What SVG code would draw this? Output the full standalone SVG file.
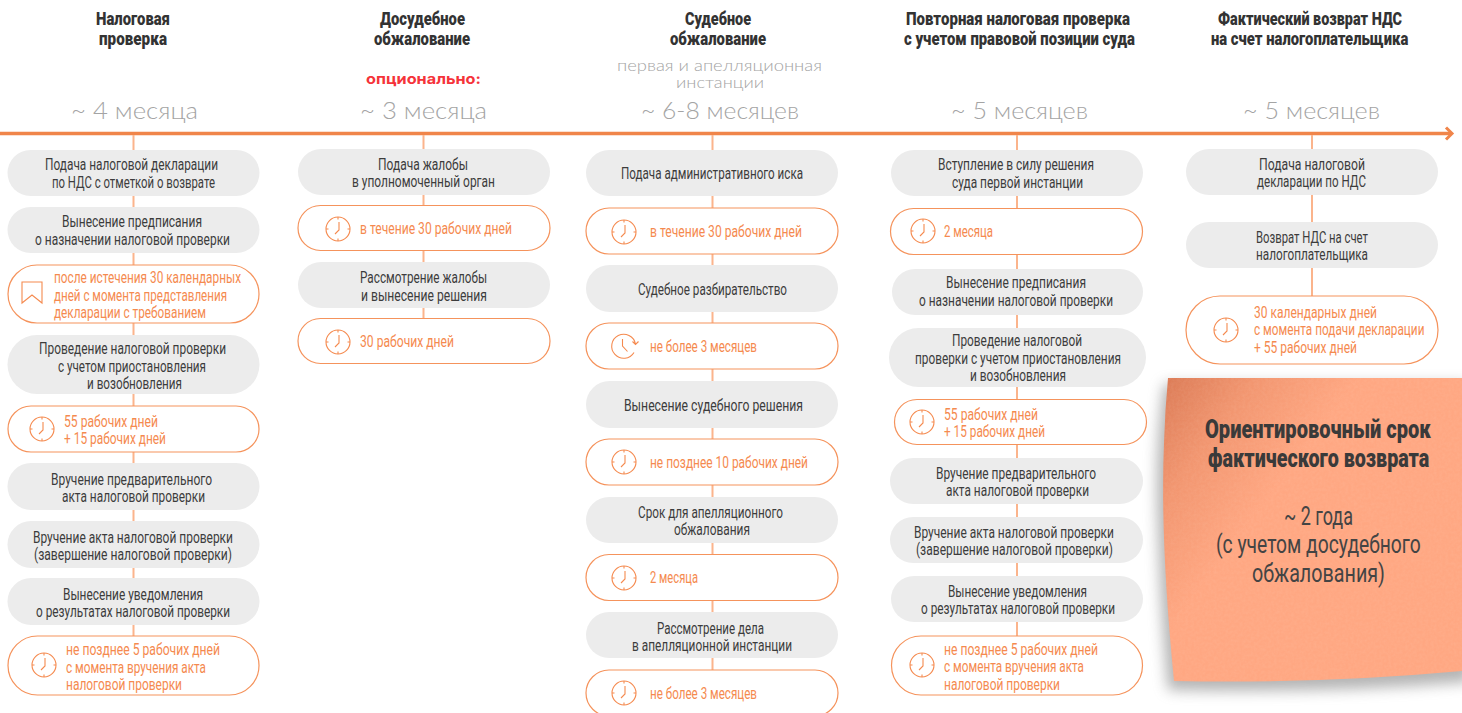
<svg xmlns="http://www.w3.org/2000/svg" width="1462" height="713" viewBox="0 0 1462 713">
<style>
text{font-family:"Roboto","Liberation Sans",sans-serif;font-size:16.5px;fill:#3c3c3c}
.g{fill:#ececec}
.o{fill:#fff;stroke:#f5935c;stroke-width:1.2}
.or text{fill:#f58a4f}
.h{font-weight:900;font-size:18.500px;fill:#333}
.m{font-family:"Lato","Open Sans",sans-serif;font-weight:300;font-size:24px;fill:#a4a4a4}
.s{font-family:"Lato","Open Sans",sans-serif;font-weight:300;font-size:15px;fill:#a4a4a4}
.r{font-family:"Inter","Open Sans",sans-serif;font-weight:700;font-size:14.5px;fill:#f5333a}
.c{stroke:#fbb48c;stroke-width:2;fill:none}
.i{fill:none;stroke:#f58a4f;stroke-width:1.1}
.n1{font-weight:900;font-size:25px;fill:#3a3a3a}
.n2{font-size:25px;fill:#444}
</style>
<defs>
<g id="clk"><circle class="i" r="12"/><path class="i" d="M0-12v2.500M0 12v-2.500M-12 0h2.500M12 0h-2.500M1-7V1L-3 5"/></g>
<g id="clk2"><path class="i" d="M10 6.500A12 12 0 1 1 11.500-2M8.500-4.500L11.500-1.500L14.500-4.500M-1.500-7V0L3.500 5.500"/></g>
<linearGradient id="pg" gradientUnits="userSpaceOnUse" x1="1170" y1="380" x2="1290" y2="470"><stop offset="0" stop-color="#dd7d58"/><stop offset="0.45" stop-color="#f29670"/><stop offset="1" stop-color="#ffa782"/></linearGradient>
<filter id="bl" x="-20%" y="-20%" width="140%" height="140%"><feGaussianBlur stdDeviation="7"/></filter>
<filter id="tx" x="0" y="0" width="100%" height="100%"><feTurbulence type="fractalNoise" baseFrequency="0.35" numOctaves="3" seed="4"/><feColorMatrix values="0 0 0 0 1 0 0 0 0 0.9 0 0 0 0 0.8 0.35 0 0 0 -0.1"/><feComposite in2="SourceAlpha" operator="in"/></filter>
</defs>

<g id="connectors">
<path d="M0 133.500H1451" stroke="#f0854a" stroke-width="3.500" fill="none"/>
<path d="M1446 127.500L1452 133.500L1446 139.500" stroke="#f0854a" stroke-width="3" fill="none"/>
<path class="c" d="M133.500 135V695M423.500 135V318M712.500 135V713M1017 135V636M1312 135V296"/>
</g>

<g id="headers">
<text class="h" x="96" y="25" textLength="74" lengthAdjust="spacingAndGlyphs">Налоговая</text>
<text class="h" x="99" y="45" textLength="68" lengthAdjust="spacingAndGlyphs">проверка</text>
<text class="h" x="380" y="25" textLength="85" lengthAdjust="spacingAndGlyphs">Досудебное</text>
<text class="h" x="374" y="45" textLength="96" lengthAdjust="spacingAndGlyphs">обжалование</text>
<text class="h" x="685" y="25" textLength="66" lengthAdjust="spacingAndGlyphs">Судебное</text>
<text class="h" x="670" y="45" textLength="96" lengthAdjust="spacingAndGlyphs">обжалование</text>
<text class="h" x="906" y="25" textLength="224" lengthAdjust="spacingAndGlyphs">Повторная налоговая проверка</text>
<text class="h" x="904" y="45" textLength="231" lengthAdjust="spacingAndGlyphs">с учетом правовой позиции суда</text>
<text class="h" transform="translate(1218 25) scale(.78 1)">Фактический возврат НДС</text>
<text class="h" transform="translate(1211 45) scale(.8 1)">на счет налогоплательщика</text>
<text class="r" x="366" y="84" textLength="115" lengthAdjust="spacingAndGlyphs">опционально:</text>
<text class="s" x="617" y="71" textLength="205" lengthAdjust="spacingAndGlyphs">первая и апелляционная</text>
<text class="s" x="676" y="88" textLength="88" lengthAdjust="spacingAndGlyphs">инстанции</text>
<text class="m" x="71" y="119" textLength="127" lengthAdjust="spacingAndGlyphs">~ 4 месяца</text>
<text class="m" x="360" y="119" textLength="127" lengthAdjust="spacingAndGlyphs">~ 3 месяца</text>
<text class="m" x="641" y="119" textLength="158" lengthAdjust="spacingAndGlyphs">~ 6-8 месяцев</text>
<text class="m" x="951" y="119" textLength="137" lengthAdjust="spacingAndGlyphs">~ 5 месяцев</text>
<text class="m" x="1243" y="119" textLength="137" lengthAdjust="spacingAndGlyphs">~ 5 месяцев</text>
</g>

<g id="c1n1"><rect class="g" x="7.500" y="150" width="252" height="46" rx="23"/><text x="45" y="169.500" textLength="173" lengthAdjust="spacingAndGlyphs">Подача налоговой декларации</text><text x="52" y="187.500" textLength="163" lengthAdjust="spacingAndGlyphs">по НДС с отметкой о возврате</text></g>
<g id="c1n2"><rect class="g" x="7.500" y="207" width="252" height="46" rx="23"/><text x="62" y="226.500" textLength="140" lengthAdjust="spacingAndGlyphs">Вынесение предписания</text><text x="35" y="244.500" textLength="195" lengthAdjust="spacingAndGlyphs">о назначении налоговой проверки</text></g>
<g id="c1n3" class="or"><rect class="o" x="8" y="265" width="251" height="58" rx="29"/><path class="i" d="M22 282h20v21l-10-8-10 8z"/><text x="54" y="282.500" textLength="187" lengthAdjust="spacingAndGlyphs">после истечения 30 календарных</text><text x="54" y="300.500" textLength="173" lengthAdjust="spacingAndGlyphs">дней с момента представления</text><text x="54" y="317.500" textLength="152" lengthAdjust="spacingAndGlyphs">декларации с требованием</text></g>
<g id="c1n4"><rect class="g" x="7.500" y="335" width="252" height="59" rx="29.500"/><text x="39" y="353.500" textLength="187" lengthAdjust="spacingAndGlyphs">Проведение налоговой проверки</text><text x="58" y="371.500" textLength="148" lengthAdjust="spacingAndGlyphs">с учетом приостановления</text><text x="87" y="388.500" textLength="95" lengthAdjust="spacingAndGlyphs">и возобновления</text></g>
<g id="c1n5" class="or"><rect class="o" x="8" y="406" width="251" height="46" rx="23"/><use href="#clk" x="42" y="429"/><text x="64" y="426.500" textLength="94" lengthAdjust="spacingAndGlyphs">55 рабочих дней</text><text x="64" y="443.500" textLength="102" lengthAdjust="spacingAndGlyphs">+ 15 рабочих дней</text></g>
<g id="c1n6"><rect class="g" x="7.500" y="463" width="252" height="47" rx="23.500"/><text x="51" y="484.500" textLength="161" lengthAdjust="spacingAndGlyphs">Вручение предварительного</text><text x="62" y="501.500" textLength="143" lengthAdjust="spacingAndGlyphs">акта налоговой проверки</text></g>
<g id="c1n7"><rect class="g" x="7.500" y="521" width="252" height="47" rx="23.500"/><text x="33" y="542.500" textLength="200" lengthAdjust="spacingAndGlyphs">Вручение акта налоговой проверки</text><text x="34" y="559.500" textLength="198" lengthAdjust="spacingAndGlyphs">(завершение налоговой проверки)</text></g>
<g id="c1n8"><rect class="g" x="7.500" y="578" width="252" height="47" rx="23.500"/><text x="63" y="599.500" textLength="140" lengthAdjust="spacingAndGlyphs">Вынесение уведомления</text><text x="36" y="616.500" textLength="194" lengthAdjust="spacingAndGlyphs">о результатах налоговой проверки</text></g>
<g id="c1n9" class="or"><rect class="o" x="8" y="636" width="251" height="59" rx="29.500"/><use href="#clk" x="44" y="665"/><text x="66" y="654.500" textLength="154" lengthAdjust="spacingAndGlyphs">не позднее 5 рабочих дней</text><text x="66" y="672.500" textLength="140" lengthAdjust="spacingAndGlyphs">с момента вручения акта</text><text x="66" y="689.500" textLength="116" lengthAdjust="spacingAndGlyphs">налоговой проверки</text></g>

<g id="c2n1"><rect class="g" x="298" y="149" width="252" height="46" rx="23"/><text x="378" y="169.500" textLength="90" lengthAdjust="spacingAndGlyphs">Подача жалобы</text><text x="352" y="186.500" textLength="143" lengthAdjust="spacingAndGlyphs">в уполномоченный орган</text></g>
<g id="c2n2" class="or"><rect class="o" x="298" y="205.500" width="252" height="45" rx="22.500"/><use href="#clk" x="338" y="229"/><text x="360" y="233.500" textLength="152" lengthAdjust="spacingAndGlyphs">в течение 30 рабочих дней</text></g>
<g id="c2n3"><rect class="g" x="298" y="262" width="252" height="46" rx="23"/><text x="360" y="282.500" textLength="127" lengthAdjust="spacingAndGlyphs">Рассмотрение жалобы</text><text x="361" y="300.500" textLength="126" lengthAdjust="spacingAndGlyphs">и вынесение решения</text></g>
<g id="c2n4" class="or"><rect class="o" x="298" y="318.500" width="252" height="45" rx="22.500"/><use href="#clk" x="338" y="342"/><text x="360" y="346.500" textLength="94" lengthAdjust="spacingAndGlyphs">30 рабочих дней</text></g>

<g id="c3n1"><rect class="g" x="586" y="150" width="252" height="46" rx="23"/><text x="621" y="178.500" textLength="182" lengthAdjust="spacingAndGlyphs">Подача административного иска</text></g>
<g id="c3n2" class="or"><rect class="o" x="586" y="208" width="252" height="46" rx="23"/><use href="#clk" x="624" y="232"/><text x="650" y="236.500" textLength="152" lengthAdjust="spacingAndGlyphs">в течение 30 рабочих дней</text></g>
<g id="c3n3"><rect class="g" x="586" y="265" width="252" height="47" rx="23.500"/><text x="638" y="294.500" textLength="149" lengthAdjust="spacingAndGlyphs">Судебное разбирательство</text></g>
<g id="c3n4" class="or"><rect class="o" x="586" y="323" width="252" height="46" rx="23"/><use href="#clk2" x="624" y="346"/><text x="650" y="351.500" textLength="107" lengthAdjust="spacingAndGlyphs">не более 3 месяцев</text></g>
<g id="c3n5"><rect class="g" x="586" y="381" width="252" height="47" rx="23.500"/><text x="624" y="410.500" textLength="179" lengthAdjust="spacingAndGlyphs">Вынесение судебного решения</text></g>
<g id="c3n6" class="or"><rect class="o" x="586" y="439" width="252" height="46" rx="23"/><use href="#clk" x="624" y="462"/><text x="650" y="467.500" textLength="158" lengthAdjust="spacingAndGlyphs">не позднее 10 рабочих дней</text></g>
<g id="c3n7"><rect class="g" x="586" y="497" width="252" height="46" rx="23"/><text x="638" y="517.500" textLength="145" lengthAdjust="spacingAndGlyphs">Срок для апелляционного</text><text x="674" y="534.500" textLength="76" lengthAdjust="spacingAndGlyphs">обжалования</text></g>
<g id="c3n8" class="or"><rect class="o" x="586" y="554.500" width="252" height="46" rx="23"/><use href="#clk" x="624" y="578"/><text x="650" y="582.500" textLength="48" lengthAdjust="spacingAndGlyphs">2 месяца</text></g>
<g id="c3n9"><rect class="g" x="586" y="612" width="252" height="46" rx="23"/><text x="657" y="633.500" textLength="107" lengthAdjust="spacingAndGlyphs">Рассмотрение дела</text><text x="632" y="650.500" textLength="160" lengthAdjust="spacingAndGlyphs">в апелляционной инстанции</text></g>
<g id="c3n10" class="or"><rect class="o" x="586" y="670" width="252" height="46" rx="23"/><use href="#clk" x="624" y="693"/><text x="650" y="698.500" textLength="107" lengthAdjust="spacingAndGlyphs">не более 3 месяцев</text></g>

<g id="c4n1"><rect class="g" x="891" y="150" width="252" height="46" rx="23"/><text x="938" y="169.500" textLength="156" lengthAdjust="spacingAndGlyphs">Вступление в силу решения</text><text x="952" y="187.500" textLength="131" lengthAdjust="spacingAndGlyphs">суда первой инстанции</text></g>
<g id="c4n2" class="or"><rect class="o" x="890.500" y="208.500" width="252" height="46" rx="23"/><use href="#clk" x="923" y="231"/><text x="944" y="236.500" textLength="49" lengthAdjust="spacingAndGlyphs">2 месяца</text></g>
<g id="c4n3"><rect class="g" x="892" y="269" width="251" height="46" rx="23"/><text x="946" y="287.500" textLength="140" lengthAdjust="spacingAndGlyphs">Вынесение предписания</text><text x="919" y="305.500" textLength="194" lengthAdjust="spacingAndGlyphs">о назначении налоговой проверки</text></g>
<g id="c4n4"><rect class="g" x="889" y="328" width="257" height="59" rx="29.500"/><text x="952" y="345.500" textLength="130" lengthAdjust="spacingAndGlyphs">Проведение налоговой</text><text x="915" y="363.500" textLength="206" lengthAdjust="spacingAndGlyphs">проверки с учетом приостановления</text><text x="970" y="380.500" textLength="96" lengthAdjust="spacingAndGlyphs">и возобновления</text></g>
<g id="c4n5" class="or"><rect class="o" x="894.500" y="399.500" width="252" height="45" rx="22.500"/><use href="#clk" x="922" y="422"/><text x="944" y="419.500" textLength="94" lengthAdjust="spacingAndGlyphs">55 рабочих дней</text><text x="944" y="436.500" textLength="101" lengthAdjust="spacingAndGlyphs">+ 15 рабочих дней</text></g>
<g id="c4n6"><rect class="g" x="890" y="458" width="253" height="46" rx="23"/><text x="936" y="478.500" textLength="160" lengthAdjust="spacingAndGlyphs">Вручение предварительного</text><text x="946" y="495.500" textLength="143" lengthAdjust="spacingAndGlyphs">акта налоговой проверки</text></g>
<g id="c4n7"><rect class="g" x="890" y="517" width="253" height="46" rx="23"/><text x="914" y="537.500" textLength="200" lengthAdjust="spacingAndGlyphs">Вручение акта налоговой проверки</text><text x="916" y="554.500" textLength="197" lengthAdjust="spacingAndGlyphs">(завершение налоговой проверки)</text></g>
<g id="c4n8"><rect class="g" x="891" y="576" width="252" height="46" rx="23"/><text x="948" y="596.500" textLength="139" lengthAdjust="spacingAndGlyphs">Вынесение уведомления</text><text x="921" y="613.500" textLength="194" lengthAdjust="spacingAndGlyphs">о результатах налоговой проверки</text></g>
<g id="c4n9" class="or"><rect class="o" x="891.500" y="636" width="251" height="59" rx="29.500"/><use href="#clk" x="922" y="665"/><text x="944" y="654.500" textLength="154" lengthAdjust="spacingAndGlyphs">не позднее 5 рабочих дней</text><text x="944" y="671.500" textLength="140" lengthAdjust="spacingAndGlyphs">с момента вручения акта</text><text x="944" y="689.500" textLength="116" lengthAdjust="spacingAndGlyphs">налоговой проверки</text></g>

<g id="c5n1"><rect class="g" x="1186" y="149" width="252" height="46" rx="23"/><text x="1259" y="169.500" textLength="106" lengthAdjust="spacingAndGlyphs">Подача налоговой</text><text x="1257" y="186.500" textLength="109" lengthAdjust="spacingAndGlyphs">декларации по НДС</text></g>
<g id="c5n2"><rect class="g" x="1186" y="222" width="252" height="46" rx="23"/><text x="1256" y="242.500" textLength="112" lengthAdjust="spacingAndGlyphs">Возврат НДС на счет</text><text x="1256" y="259.500" textLength="112" lengthAdjust="spacingAndGlyphs">налогоплательщика</text></g>
<g id="c5n3" class="or"><rect class="o" x="1186" y="296" width="252" height="68" rx="34"/><use href="#clk" x="1226" y="330"/><text x="1254" y="317.500" textLength="123" lengthAdjust="spacingAndGlyphs">30 календарных дней</text><text transform="translate(1254 334.500) scale(.714 1)">с момента подачи декларации</text><text x="1254" y="352.500" textLength="103" lengthAdjust="spacingAndGlyphs">+ 55 рабочих дней</text></g>

<g id="note">
<path d="M1164 384Q1154 450 1158 530Q1161 620 1168 690Q1320 694 1470 682V384Z" fill="#777" opacity=".55" filter="url(#bl)"/>
<path id="paper" d="M1168 378H1462V671Q1320 684 1174 681Q1160 540 1164 443Q1165 410 1168 378Z" fill="url(#pg)"/>
<path d="M1168 378H1462V671Q1320 684 1174 681Q1160 540 1164 443Q1165 410 1168 378Z" fill="#fff" filter="url(#tx)" opacity=".35"/>
<text class="n1" transform="translate(1205 438) scale(.803 1)">Ориентировочный срок</text>
<text class="n1" transform="translate(1208 467) scale(.79 1)">фактического возврата</text>
<text class="n2" x="1284" y="525" textLength="69" lengthAdjust="spacingAndGlyphs">~ 2 года</text>
<text class="n2" transform="translate(1216 553) scale(.771 1)">(с учетом досудебного</text>
<text class="n2" x="1252" y="582" textLength="133" lengthAdjust="spacingAndGlyphs">обжалования)</text>
</g>
</svg>
